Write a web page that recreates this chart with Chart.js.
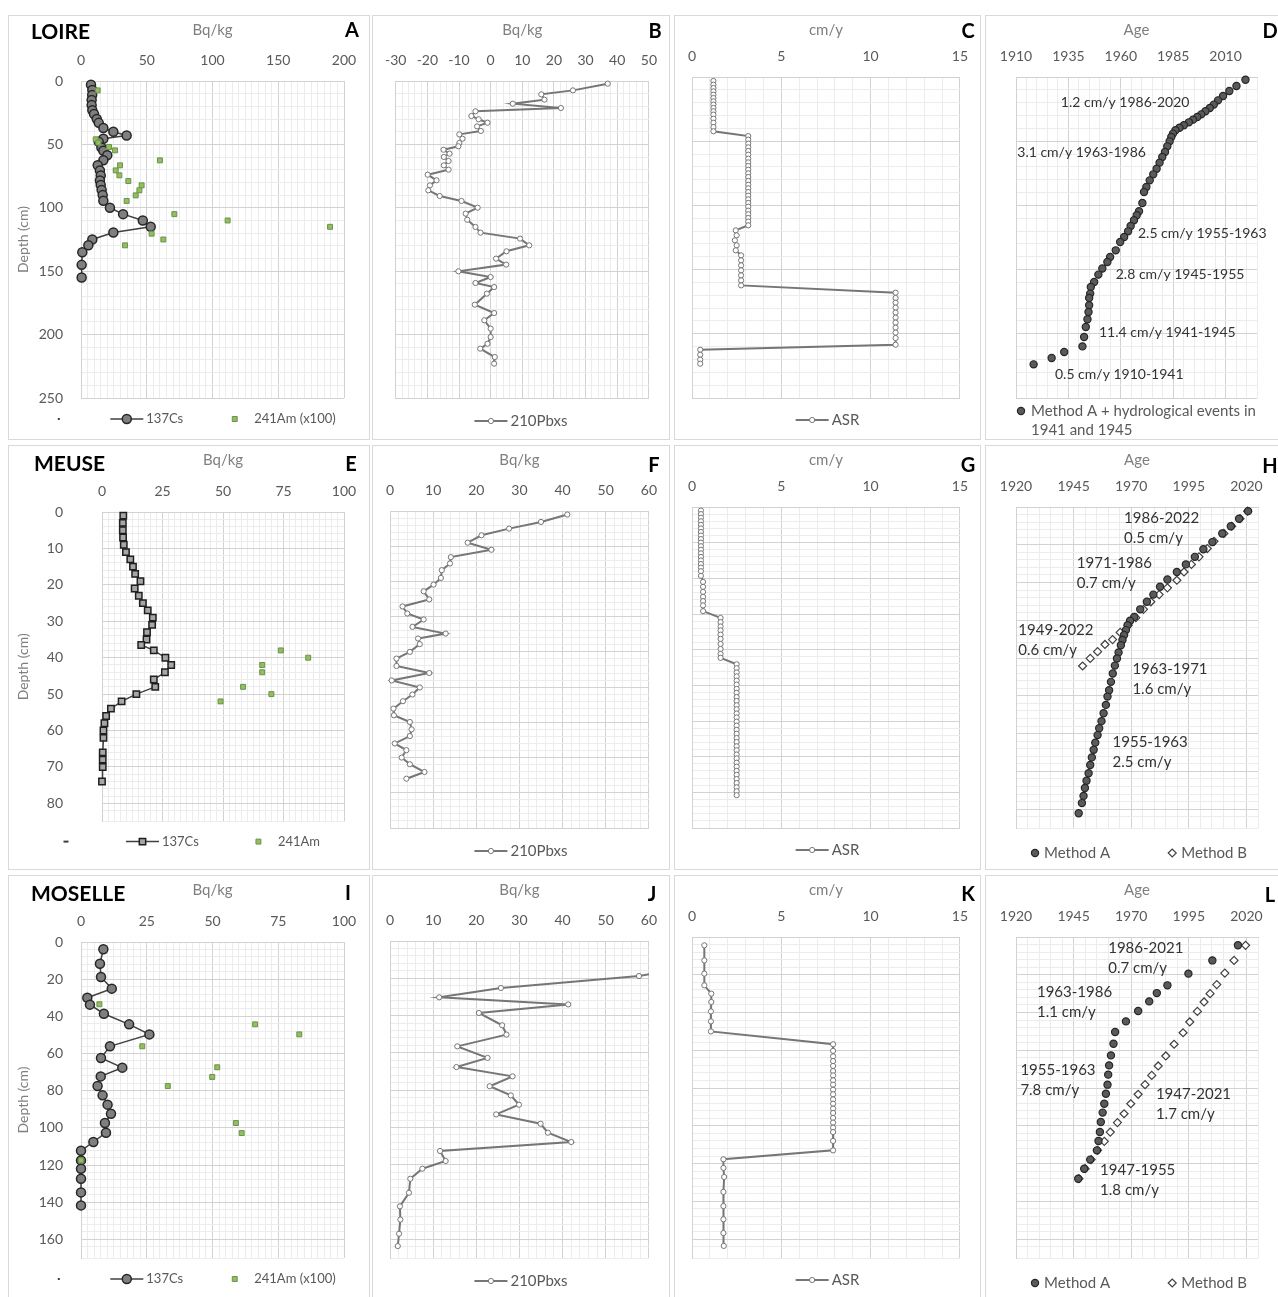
<!DOCTYPE html>
<html>
<head>
<meta charset="utf-8">
<script src="https://cdn.jsdelivr.net/npm/chart.js@4.4.1/dist/chart.umd.min.js"></script>
<style>
  html, body { margin: 0; padding: 0; background: #fff; overflow: hidden; }
  body { width: 1278px; height: 1297px; position: relative; font-family: Lato, sans-serif; }
  .panel { position: absolute; border: 1px solid #d9d9d9; box-sizing: border-box; height: 425px; }
  .panel canvas { position: absolute; left: 0; top: 0; }
  .river { position: absolute; font: bold 21px Lato; color: #000; transform: translateY(-50%); }
  .tag { position: absolute; font: bold 20px Lato; color: #000; transform: translate(-50%, -50%); }
</style>
</head>
<body>
<div class="panel" style="left:8px;top:15px;width:362px"><canvas id="cA" width="360" height="423"></canvas></div>
<div class="panel" style="left:372px;top:15px;width:298px"><canvas id="cB" width="296" height="423"></canvas></div>
<div class="panel" style="left:674px;top:15px;width:307px"><canvas id="cC" width="305" height="423"></canvas></div>
<div class="panel" style="left:985px;top:15px;width:300px"><canvas id="cD" width="298" height="423"></canvas></div>
<div class="panel" style="left:8px;top:445px;width:362px"><canvas id="cE" width="360" height="423"></canvas></div>
<div class="panel" style="left:372px;top:445px;width:298px"><canvas id="cF" width="296" height="423"></canvas></div>
<div class="panel" style="left:674px;top:445px;width:307px"><canvas id="cG" width="305" height="423"></canvas></div>
<div class="panel" style="left:985px;top:445px;width:300px"><canvas id="cH" width="298" height="423"></canvas></div>
<div class="panel" style="left:8px;top:875px;width:362px"><canvas id="cI" width="360" height="423"></canvas></div>
<div class="panel" style="left:372px;top:875px;width:298px"><canvas id="cJ" width="296" height="423"></canvas></div>
<div class="panel" style="left:674px;top:875px;width:307px"><canvas id="cK" width="305" height="423"></canvas></div>
<div class="panel" style="left:985px;top:875px;width:300px"><canvas id="cL" width="298" height="423"></canvas></div>

<div class="river" style="left:31px;top:30px">LOIRE</div>
<div class="river" style="left:34px;top:462px">MEUSE</div>
<div class="river" style="left:31px;top:892px">MOSELLE</div>
<div class="tag" style="left:352px;top:29px">A</div>
<div class="tag" style="left:655px;top:30px">B</div>
<div class="tag" style="left:968px;top:30px">C</div>
<div class="tag" style="left:1270px;top:30px">D</div>
<div class="tag" style="left:351px;top:463px">E</div>
<div class="tag" style="left:654px;top:464px">F</div>
<div class="tag" style="left:968px;top:464px">G</div>
<div class="tag" style="left:1270px;top:465px">H</div>
<div class="tag" style="left:348px;top:892px">I</div>
<div class="tag" style="left:652px;top:893px">J</div>
<div class="tag" style="left:968px;top:893px">K</div>
<div class="tag" style="left:1270px;top:894px">L</div>

<script>
// ---------- LOIRE ----------
const csDepthA = [3, 7, 11, 15, 19, 23, 26, 30, 33, 37, 40, 43, 45.5, 48, 52.5, 55, 58.5, 62.5, 66.5, 70.5, 74.5, 78.5, 82, 86, 90, 94.5, 100, 105, 110, 115, 119.5, 125, 129.5, 135, 145, 155];
const csA = [7.6, 8.6, 8.5, 8.1, 8.1, 8.6, 9.9, 12, 13.5, 17, 24.6, 34.7, 17, 13.5, 15.5, 17, 20, 17, 12.7, 14.4, 15, 14.4, 15, 15.7, 16.5, 17, 22, 32, 47, 53, 24.6, 8.6, 5.6, 1, 0.5, 0.5];
const amDepthA = [7.4, 46, 48.6, 52, 54.7, 62.6, 66.5, 70.5, 74.4, 78.9, 82.3, 86.2, 90.2, 94.6, 105, 110, 115, 120.4, 125, 129.6];
const amA = [12.7, 11.2, 13.2, 21.3, 25.9, 60, 29.7, 26.4, 29.2, 36, 46.1, 44.4, 41.6, 34.7, 71, 111.5, 189.4, 53.7, 62.6, 33.5];

const pbDepthB = [2.1, 7.4, 10.5, 14.7, 17.9, 21.3, 23.9, 27.6, 30.2, 32.9, 35.8, 39.4, 42.1, 45.5, 48.9, 51.5, 54.2, 57.3, 59.9, 63.1, 66.5, 69.9, 73.9, 78.3, 82.3, 86.2, 90.7, 94.6, 99.9, 104.6, 109.4, 115.1, 119.6, 124.3, 129.6, 134.3, 140.1, 144.8, 150.1, 154.6, 159.3, 162.5, 167.7, 176.4, 183, 188.7, 195.3, 201.9, 207.2, 211.1, 217.7, 222.9];
const pbB = [37, 26, 16, 17, 7, 22.2, -4.8, -6.1, -3.8, -1, -4.3, -3.1, -9.9, -8.9, -9.9, -10.2, -14.9, -13, -14.8, -13.3, -14.8, -13.3, -19.9, -17.1, -19.2, -19.7, -16.1, -9.2, -4.1, -7.9, -7.4, -4.8, -3.2, 9.3, 12.2, 5, 1.7, 4.9, -10.2, 0, -4.8, 1.1, -1.2, -5, 1.1, -2, 0, 0, -1, -3.3, 1.3, 1.1];

const asrDepthC = [3.1, 6, 8.6, 11.2, 13.8, 16.4, 19, 21.5, 24.1, 26.7, 29.3, 32.5, 35.6, 39, 42.3,
  46, 48.8, 51.9, 54.8, 57.6, 60.5, 63.6, 66.5, 69.3, 72.2, 75, 77.9, 81, 83.9, 86.7, 89.6, 92.4, 95.3, 98.1, 101, 104.1, 106.9, 109.8, 112.6, 115.5,
  119.4, 123.3, 127.2, 131.1, 135,
  138.9, 142.8, 146.7, 150.6, 154.5, 158.4, 162.3,
  168, 172.1, 175.8, 179.6, 183.5, 187.4, 191.3, 195.2, 199.1, 203.3, 208.5,
  212.4, 216.3, 220.1, 223.3];
const asrC = [1.2, 1.2, 1.2, 1.2, 1.2, 1.2, 1.2, 1.2, 1.2, 1.2, 1.2, 1.2, 1.2, 1.2, 1.2,
  3.15, 3.15, 3.15, 3.15, 3.15, 3.15, 3.15, 3.15, 3.15, 3.15, 3.15, 3.15, 3.15, 3.15, 3.15, 3.15, 3.15, 3.15, 3.15, 3.15, 3.15, 3.15, 3.15, 3.15, 3.15,
  2.45, 2.5, 2.4, 2.5, 2.45,
  2.75, 2.75, 2.75, 2.75, 2.75, 2.75, 2.75,
  11.4, 11.4, 11.4, 11.4, 11.4, 11.4, 11.4, 11.4, 11.4, 11.4, 11.4,
  0.46, 0.46, 0.46, 0.46];

const ageDepthD = [2.1, 7, 10.9, 14.8, 18.2, 21.5, 24.1, 26.7, 29.1, 31.2, 33.2, 35.3, 37.6, 39.5, 41.5, 44.1, 46.7, 50.1, 54, 58.4, 62.3, 66.7, 71.4, 75.8, 80.5, 85.7, 89.6, 98.1, 104.6, 107.7, 111.6, 116, 120.2, 124.6, 128.5, 135, 140.2, 144.1, 149.2, 153.9, 159.7, 163.6, 168.7, 172.1, 177.8, 183, 188.7, 194.7, 202.5, 209.8, 214.2, 218.8, 223.8];
const ageD = [2019.5, 2015.2, 2011.8, 2008.8, 2006.4, 2004.4, 2002.5, 2000.4, 1998.4, 1996.5, 1994.5, 1992.5, 1990.1, 1988, 1986.1, 1984.9, 1984.1, 1983.3, 1982.2, 1981.1, 1979.8, 1978.5, 1977.1, 1975.5, 1973.8, 1972.2, 1971.1, 1970.3, 1968.7, 1967.6, 1966.3, 1964.7, 1963.5, 1961.6, 1959.7, 1957.6, 1954.9, 1953.6, 1951.2, 1949.3, 1947.3, 1945.7, 1945.4, 1944.9, 1944.9, 1944.6, 1944.1, 1943.3, 1942.5, 1941.7, 1933, 1927, 1918.4];

// ---------- MEUSE ----------
const csDepthE = [1, 3, 5, 7, 9, 11, 13, 15, 17, 19, 21, 23, 25, 27, 29, 31, 33, 35, 36.5, 38, 40, 42, 44, 46, 48, 50, 52, 54, 56, 58, 60, 62, 66, 68, 70, 74];
const csE = [8.8, 8.6, 8.6, 8.7, 9, 9.9, 11.7, 12.8, 13.7, 15.9, 13.5, 15.2, 16.9, 18.9, 21, 20.7, 18.6, 18.4, 16.2, 21.4, 26.2, 28.6, 26, 21.4, 22, 14.2, 8.1, 3.7, 1.7, 1, 0.6, 0.6, 0.3, 0.3, 0.3, 0];
const amDepthE = [38, 40, 42, 44, 48, 50, 52];
const amE = [73.9, 85.2, 66.2, 66.2, 58.3, 70, 49];

const pbDepthF = [1, 3.1, 5, 6.9, 9, 11, 13.1, 14.9, 16.8, 19, 20.9, 22.8, 25.1, 27.1, 29.1, 30.8, 32.9, 34.8, 36.2, 37.8, 40, 41.9, 44, 46, 48.1, 50.1, 52.1, 54, 56.1, 58, 59.9, 62, 63.9, 66, 67.9, 70, 71.9, 74.1, 76];
const pbF = [41.1, 35, 27.6, 21.2, 18, 23.5, 14.1, 13.9, 12, 11.8, 10.1, 7.8, 9.1, 2.9, 4, 7.8, 5.2, 12.9, 6.5, 6.9, 4.6, 1.5, 1.5, 9.1, 0.4, 6.9, 5.2, 3, 0.8, 0.9, 4.6, 5, 4.6, 1.1, 3.8, 2.7, 4.6, 8, 3.8];

const asrDepthG = [1, 2, 3, 4, 5, 6, 7, 8, 9, 10, 11, 12, 13, 14, 15, 16, 17, 18, 19.3,
  21, 22.4, 23.8, 25.2, 26.4, 27.6, 29.2,
  31.1, 32.3, 33.5, 34.6, 35.8, 37, 38.4, 39.8, 41.2, 42.3,
  44.1, 45.2, 46.4, 47.5, 48.7, 49.8, 51, 52.1, 53.3, 54.4, 55.6, 56.7, 57.9, 59, 60.2, 61.3, 62.5, 63.6, 64.8, 65.9, 67.1, 68.2, 69.4, 70.5, 71.7, 72.8, 74, 75.1, 76.3, 77.4, 78.6, 79.7, 80.8];
const asrG = [0.5, 0.5, 0.5, 0.5, 0.5, 0.5, 0.5, 0.5, 0.5, 0.5, 0.5, 0.5, 0.5, 0.5, 0.5, 0.5, 0.5, 0.5, 0.5,
  0.62, 0.62, 0.62, 0.62, 0.62, 0.62, 0.62,
  1.6, 1.6, 1.6, 1.6, 1.6, 1.6, 1.6, 1.6, 1.6, 1.6,
  2.5, 2.5, 2.5, 2.5, 2.5, 2.5, 2.5, 2.5, 2.5, 2.5, 2.5, 2.5, 2.5, 2.5, 2.5, 2.5, 2.5, 2.5, 2.5, 2.5, 2.5, 2.5, 2.5, 2.5, 2.5, 2.5, 2.5, 2.5, 2.5, 2.5, 2.5, 2.5, 2.5];

const ageADepthH = [1.1, 3.1, 5.1, 7, 9.3, 11.2, 13.2, 15.2, 17.2, 19.2, 21.1, 23.2, 25.1, 27.1, 29.1, 30.1, 31.3, 32.6, 33.9, 35.2, 36.6, 38.5, 40.1, 42, 44.1, 46.3, 48.5, 50.2, 52.4, 54.6, 56.7, 58.6, 60.4, 62.4, 64.3, 66.3, 68.3, 70.5, 72.5, 74.4, 76.5, 78.4, 81.1];
const ageAH = [2020.7, 2016.8, 2013.2, 2009.5, 2005.2, 2001.3, 1997.6, 1993.7, 1989.8, 1985.7, 1982.5, 1979.6, 1976.8, 1973.9, 1971.3, 1969.5, 1968.4, 1967.7, 1966.9, 1966.2, 1965.5, 1964.5, 1963.8, 1962.9, 1962, 1961.2, 1960.4, 1959.7, 1959, 1958, 1957.1, 1956.1, 1955.4, 1954.4, 1953.7, 1952.9, 1952.2, 1951.5, 1950.6, 1949.9, 1949.3, 1948.6, 1947.2];
const ageBDepthH = [1.1, 3.1, 5.1, 7, 9.1, 11, 13.2, 15.2, 17.2, 19.4, 21.4, 23.2, 25.1, 27.1, 29.3, 31.3, 33.2, 35.1, 36.4, 38.3, 40.1, 42.1];
const ageBH = [2020.5, 2017.2, 2013.6, 2010.2, 2005.9, 2003, 1999.4, 1996.1, 1992.9, 1989.8, 1985.7, 1982.1, 1978.5, 1975.3, 1972, 1968.7, 1965.2, 1961.9, 1958.6, 1955.4, 1952.2, 1948.9];

// ---------- MOSELLE ----------
const csDepthI = [3.9, 11.7, 18.8, 25.1, 30, 33.7, 38.6, 44.3, 49.7, 56.1, 62.4, 67.6, 72.3, 77.5, 82.5, 87.5, 92.4, 97.4, 102.6, 107.6, 112.3, 117.5, 122, 127.4, 134.7, 141.7];
const csI = [8.5, 7.2, 7.6, 11.7, 2.4, 3.4, 8.7, 18.3, 26, 11, 7.6, 15.7, 7.5, 6.3, 8.2, 10.1, 11.4, 9.1, 9.5, 4.7, 0, 0, 0, 0, 0, 0];
const amDepthI = [33.5, 44.3, 49.7, 56.1, 67.4, 72.6, 77.5, 97.4, 102.8, 117.5];
const amI = [7, 66.2, 83, 23.3, 51.8, 49.9, 33, 58.9, 61.1, 0];

const pbDepthJ = [12, 18.8, 25.2, 30.2, 34, 38.6, 45.2, 50.2, 56.5, 62.7, 67.6, 72.6, 77.9, 82.8, 87.8, 93, 98, 102.8, 107.8, 112.6, 118, 122.1, 127.5, 135, 142.3, 149.4, 157, 163.6];
const pbJ = [75, 57.7, 25.7, 11.4, 41.3, 20.6, 26, 27, 15.6, 22.6, 15.4, 28.4, 23.1, 28, 29.9, 24.6, 34.9, 36.6, 42, 11.6, 12.9, 7.5, 4.7, 4.4, 2.3, 2.4, 2.1, 1.8];

const asrDepthK = [4.4, 12.4, 19.4, 25.6, 30, 34.4, 39.4, 44.7, 50,
  56.8, 60.3, 63.2, 65.7, 68.3, 71, 73.3, 75.9, 78.2, 80.9, 83.3, 86, 88.3, 90.9, 93.2, 95.8, 98.3, 101, 103.3, 108, 113,
  117.7, 122.3, 127.1, 135, 142.5, 149.5, 156.8, 163.6];
const asrK = [0.69, 0.69, 0.69, 0.69, 1.08, 1.08, 1.06, 1.06, 1.06,
  7.9, 7.9, 7.9, 7.9, 7.9, 7.9, 7.9, 7.9, 7.9, 7.9, 7.9, 7.9, 7.9, 7.9, 7.9, 7.9, 7.9, 7.9, 7.9, 7.9, 7.9,
  1.76, 1.76, 1.8, 1.76, 1.76, 1.76, 1.76, 1.78];

const ageADepthL = [4.4, 12.4, 19.4, 25.6, 29.7, 34.1, 39.2, 44.7, 50.3, 56.5, 62.7, 68, 72.9, 78.2, 83, 88.3, 93, 98, 103.3, 108, 113, 117.9, 122.7, 128];
const ageAL = [2016.3, 2005.2, 1994.8, 1985.7, 1981.1, 1977.8, 1973, 1967.7, 1963, 1962.3, 1961.2, 1960.4, 1960, 1959.7, 1959, 1958.3, 1957.6, 1956.8, 1956.4, 1955.8, 1955.1, 1952.2, 1949.6, 1947];
const ageBDepthL = [4.4, 12.4, 19.1, 25.2, 30, 34.4, 39.4, 45, 50.7, 56.8, 63, 68.3, 73.3, 78.2, 83.3, 88.3, 93.6, 98.3, 103.3, 108.2, 113, 117.9, 122.7, 128];
const ageBL = [2019.6, 2014.6, 2010.6, 2007.1, 2004.2, 2001.6, 1998.7, 1995.4, 1992.5, 1988.6, 1985, 1981.7, 1978.9, 1976, 1973, 1969.8, 1966.9, 1964, 1960.9, 1958.3, 1955.4, 1952.6, 1950, 1947.3];

// ---------- helpers ----------
const MAJOR = '#d2d2d2', MINOR = '#ececec', TICK = '#595959', TITLE = '#7f7f7f';
const pts = (xs, ys) => xs.map((x, i) => ({ x, y: ys[i] }));
const isMul = (v, m) => { const r = v / m; return Math.abs(r - Math.round(r)) < 1e-6; };

function axis(o) {
  const base = o.base || 0;
  return {
    type: 'linear', position: o.pos, reverse: !!o.reverse, min: o.min, max: o.max,
    afterFit: s => { if (o.pos === 'top') s.height = o.size; else s.width = o.size; },
    grid: { drawTicks: false, color: c => isMul(c.tick.value - base, o.major) ? MAJOR : MINOR },
    border: { color: MAJOR },
    ticks: {
      display: o.labels !== false, stepSize: o.minor, autoSkip: false, maxRotation: 0,
      padding: o.pad || 12, color: TICK, font: { family: 'Lato', size: 14 },
      callback: v => isMul(v - base, o.major) ? String(v) : ''
    },
    title: o.title
      ? { display: true, text: o.title, color: TITLE, font: { family: 'Lato', size: o.tsize || 15 }, padding: { top: o.tpad || 5, bottom: 0 } }
      : { display: false }
  };
}

function mark(ctx, ds, x, y) {
  ctx.fillStyle = ds.pointBackgroundColor;
  ctx.strokeStyle = ds.pointBorderColor;
  ctx.lineWidth = ds.pointBorderWidth;
  Chart.helpers.drawPoint(ctx, { pointStyle: ds.pointStyle, rotation: 0, radius: ds.pointRadius, borderWidth: ds.pointBorderWidth }, x, y);
}

// legend drawn below the plot, Excel style (line + marker, then label)
const keyPlugin = {
  id: 'key',
  afterDraw(chart, args, o) {
    if (!o || !o.items) return;
    const { ctx, chartArea } = chart;
    ctx.save();
    ctx.font = o.size + 'px Lato';
    ctx.textBaseline = 'middle';
    const items = o.items.map(it => {
      const lines = [].concat(it.text || []);
      const tw = lines.length ? Math.max(...lines.map(t => ctx.measureText(t).width)) : 0;
      return { it, lines, w: o.sym + (lines.length ? o.gap + tw : 0) };
    });
    const total = items.reduce((a, b) => a + b.w, 0) + o.space * (items.length - 1);
    let x = o.align === 'start' ? chartArea.left + (o.dx || 0) : (chart.width - total) / 2 + (o.dx || 0);
    const y = chartArea.bottom + o.dy;
    items.forEach(({ it, lines, w }) => {
      const cx = x + o.sym / 2;
      if (it.blank) { ctx.fillStyle = '#404040'; ctx.fillRect(cx - (it.blank === 'dash' ? 3 : 1), y - 1, it.blank === 'dash' ? 5 : 2, 2); }
      if (it.ds != null) {
        const ds = chart.data.datasets[it.ds];
        if (ds.showLine) {
          ctx.strokeStyle = ds.borderColor; ctx.lineWidth = ds.borderWidth;
          ctx.beginPath(); ctx.moveTo(x, y); ctx.lineTo(x + o.sym, y); ctx.stroke();
        }
        mark(ctx, ds, cx, y);
      }
      ctx.fillStyle = o.color || TICK;
      lines.forEach((t, i) => ctx.fillText(t, x + o.sym + o.gap, y + i * (o.lineHeight || 19)));
      x += w + o.space;
    });
    ctx.restore();
  }
};

// text notes placed at data coordinates
const notesPlugin = {
  id: 'notes',
  afterDatasetsDraw(chart, args, o) {
    if (!o || !o.items) return;
    const { ctx, scales } = chart;
    ctx.save();
    ctx.font = o.size + 'px Lato';
    ctx.fillStyle = '#333';
    ctx.textBaseline = 'middle';
    o.items.forEach(n => {
      const px = scales.x.getPixelForValue(n.at[0]), py = scales.y.getPixelForValue(n.at[1]);
      [].concat(n.text).forEach((t, i) => ctx.fillText(t, px, py + i * o.lineHeight));
    });
    ctx.restore();
  }
};
Chart.register(keyPlugin, notesPlugin);

const csStyle = { showLine: true, borderColor: '#404040', borderWidth: 1.5, pointStyle: 'circle', pointRadius: 4.5,
  pointBackgroundColor: '#7f7f7f', pointBorderColor: '#262626', pointBorderWidth: 1.5, order: 1, clip: 8 };
const csSqStyle = { showLine: true, borderColor: '#404040', borderWidth: 1.5, pointStyle: 'rect', pointRadius: 4.5,
  pointBackgroundColor: '#a6a6a6', pointBorderColor: '#1f1f1f', pointBorderWidth: 1.5, order: 1, clip: 8 };
const amStyle = { showLine: false, pointStyle: 'rect', pointRadius: 3.5, pointBackgroundColor: '#8fc156',
  pointBorderColor: '#6f8f55', pointBorderWidth: 1, order: 0, clip: 8 };
const pbStyle = { showLine: true, borderColor: '#767676', borderWidth: 2, pointStyle: 'circle', pointRadius: 2.6,
  pointBackgroundColor: '#ffffff', pointBorderColor: '#767676', pointBorderWidth: 1, clip: 6 };
const mAStyle = { showLine: false, pointStyle: 'circle', pointRadius: 3.6, pointBackgroundColor: '#5a5a5a',
  pointBorderColor: '#262626', pointBorderWidth: 1.2, order: 0, clip: 8 };
const mBStyle = { showLine: false, pointStyle: 'rectRot', pointRadius: 4, pointBackgroundColor: '#ffffff',
  pointBorderColor: '#404040', pointBorderWidth: 1.2, order: 1, clip: 8 };

function build(id, c) {
  return new Chart(document.getElementById(id), {
    type: 'scatter',
    data: { datasets: c.datasets },
    options: {
      responsive: false, animation: false, events: [],
      layout: { padding: { left: 0, top: 0, right: c.padR, bottom: 41 } },
      scales: { x: axis(Object.assign({ pos: 'top' }, c.x)), y: axis(Object.assign({ pos: 'left', reverse: true }, c.y)) },
      plugins: { legend: { display: false }, tooltip: { enabled: false }, key: c.key, notes: c.notes || {} }
    }
  });
}

const depthTitle = { title: 'Depth (cm)', tsize: 14, tpad: 6 };
const bqAxis = (min, max, minor, major, size) => ({ min, max, minor, major, size, title: 'Bq/kg' });
const rateAxis = size => ({ min: 0, max: 15, minor: 1, major: 5, size, title: 'cm/y' });
const yearAxis = (min, size) => ({ min, max: 2025, minor: 5, major: 25, base: min, size, title: 'Age' });
const hidden = (max, minor, major, size) => ({ min: 0, max, minor, major, size, labels: false });
const lineKey = (label, dy) => ({ size: 15, sym: 33, gap: 3, space: 30, dy, items: [{ ds: 0, text: label }] });
const methodKey = { size: 15, sym: 8, gap: 5, space: 58, dy: 25, dx: 4, items: [{ ds: 0, text: 'Method A' }, { ds: 1, text: 'Method B' }] };

// LOIRE
build('cA', {
  padR: 25,
  x: bqAxis(0, 200, 5, 50, 65),
  y: Object.assign({ min: 0, max: 250, minor: 10, major: 50, size: 72, pad: 18 }, depthTitle),
  datasets: [
    Object.assign({ label: '137Cs', data: pts(csA, csDepthA) }, csStyle),
    Object.assign({ label: '241Am (x100)', data: pts(amA, amDepthA) }, amStyle)
  ],
  key: { size: 13, sym: 33, gap: 3, space: 35, dy: 21, items: [{ blank: 'dot' }, { ds: 0, text: '137Cs' }, { ds: 1, text: '241Am (x100)' }] }
});
build('cB', {
  padR: 16,
  x: bqAxis(-30, 50, 2, 10, 65),
  y: hidden(250, 10, 50, 20),
  datasets: [Object.assign({ label: '210Pbxs', data: pts(pbB, pbDepthB) }, pbStyle)],
  key: lineKey('210Pbxs', 23)
});
build('cC', {
  padR: 19,
  x: rateAxis(61),
  y: hidden(250, 10, 50, 17),
  datasets: [Object.assign({ label: 'ASR', data: pts(asrC, asrDepthC) }, pbStyle)],
  key: lineKey('ASR', 22)
});
build('cD', {
  padR: 27,
  x: yearAxis(1910, 61),
  y: hidden(250, 10, 50, 30),
  datasets: [Object.assign({ label: 'Method A + hydrological events in 1941 and 1945', data: pts(ageD, ageDepthD) }, mAStyle)],
  key: { size: 15, sym: 8, gap: 6, space: 0, dy: 13, dx: 1, align: 'start', lineHeight: 19,
    items: [{ ds: 0, text: ['Method A + hydrological events in', '1941 and 1945'] }] },
  notes: { size: 14, lineHeight: 20, items: [
    { at: [1931.4, 19.7], text: '1.2 cm/y 1986-2020' },
    { at: [1910.6, 58.6], text: '3.1 cm/y 1963-1986' },
    { at: [1968.2, 121.6], text: '2.5 cm/y 1955-1963' },
    { at: [1957.6, 153.5], text: '2.8 cm/y 1945-1955' },
    { at: [1949.6, 198.7], text: '11.4 cm/y 1941-1945' },
    { at: [1928.6, 231.4], text: '0.5 cm/y 1910-1941' }
  ] }
});

// MEUSE
build('cE', {
  padR: 25,
  x: bqAxis(0, 100, 2.5, 25, 66),
  y: Object.assign({ min: 0, max: 85, minor: 2, major: 10, size: 93, pad: 39 }, depthTitle),
  datasets: [
    Object.assign({ label: '137Cs', data: pts(csE, csDepthE) }, csSqStyle),
    Object.assign({ label: '241Am', data: pts(amE, amDepthE) }, amStyle)
  ],
  key: { size: 13, sym: 33, gap: 3, space: 43, dy: 20, dx: -4, items: [{ blank: 'dash' }, { ds: 0, text: '137Cs' }, { ds: 1, text: '241Am' }] }
});
build('cF', {
  padR: 16,
  x: bqAxis(0, 60, 2, 10, 65),
  y: hidden(90, 2, 10, 17),
  datasets: [Object.assign({ label: '210Pbxs', data: pts(pbF, pbDepthF) }, pbStyle)],
  key: lineKey('210Pbxs', 23)
});
build('cG', {
  padR: 19,
  x: rateAxis(61),
  y: hidden(90, 2, 10, 17),
  datasets: [Object.assign({ label: 'ASR', data: pts(asrG, asrDepthG) }, pbStyle)],
  key: lineKey('ASR', 22)
});
build('cH', {
  padR: 26,
  x: yearAxis(1920, 61),
  y: hidden(85, 2, 10, 30),
  datasets: [
    Object.assign({ label: 'Method A', data: pts(ageAH, ageADepthH) }, mAStyle),
    Object.assign({ label: 'Method B', data: pts(ageBH, ageBDepthH) }, mBStyle)
  ],
  key: methodKey,
  notes: { size: 15, lineHeight: 20, items: [
    { at: [1966.9, 2.9], text: ['1986-2022', '0.5 cm/y'] },
    { at: [1946.4, 15], text: ['1971-1986', '0.7 cm/y'] },
    { at: [1921, 32.6], text: ['1949-2022', '0.6 cm/y'] },
    { at: [1970.5, 42.9], text: ['1963-1971', '1.6 cm/y'] },
    { at: [1961.9, 62.2], text: ['1955-1963', '2.5 cm/y'] }
  ] }
});

// MOSELLE
build('cI', {
  padR: 25,
  x: bqAxis(0, 100, 2.5, 25, 66),
  y: Object.assign({ min: 0, max: 170, minor: 4, major: 20, size: 72, pad: 18 }, depthTitle),
  datasets: [
    Object.assign({ label: '137Cs', data: pts(csI, csDepthI) }, csStyle),
    Object.assign({ label: '241Am (x100)', data: pts(amI, amDepthI) }, amStyle)
  ],
  key: { size: 13, sym: 33, gap: 3, space: 35, dy: 21, items: [{ blank: 'dot' }, { ds: 0, text: '137Cs' }, { ds: 1, text: '241Am (x100)' }] }
});
build('cJ', {
  padR: 16,
  x: bqAxis(0, 60, 2, 10, 65),
  y: hidden(170, 4, 20, 17),
  datasets: [Object.assign({ label: '210Pbxs', data: pts(pbJ, pbDepthJ) }, pbStyle, { clip: 0 })],
  key: lineKey('210Pbxs', 23)
});
build('cK', {
  padR: 19,
  x: rateAxis(61),
  y: hidden(170, 4, 20, 17),
  datasets: [Object.assign({ label: 'ASR', data: pts(asrK, asrDepthK) }, pbStyle)],
  key: lineKey('ASR', 22)
});
build('cL', {
  padR: 26,
  x: yearAxis(1920, 61),
  y: hidden(170, 4, 20, 30),
  datasets: [
    Object.assign({ label: 'Method A', data: pts(ageAL, ageADepthL) }, mAStyle),
    Object.assign({ label: 'Method B', data: pts(ageBL, ageBDepthL) }, mBStyle)
  ],
  key: methodKey,
  notes: { size: 15, lineHeight: 20, items: [
    { at: [1960, 5.8], text: ['1986-2021', '0.7 cm/y'] },
    { at: [1929.1, 29.4], text: ['1963-1986', '1.1 cm/y'] },
    { at: [1921.9, 70.5], text: ['1955-1963', '7.8 cm/y'] },
    { at: [1980.7, 83.2], text: ['1947-2021', '1.7 cm/y'] },
    { at: [1956.5, 123.5], text: ['1947-1955', '1.8 cm/y'] }
  ] }
});
</script>
</body>
</html>
